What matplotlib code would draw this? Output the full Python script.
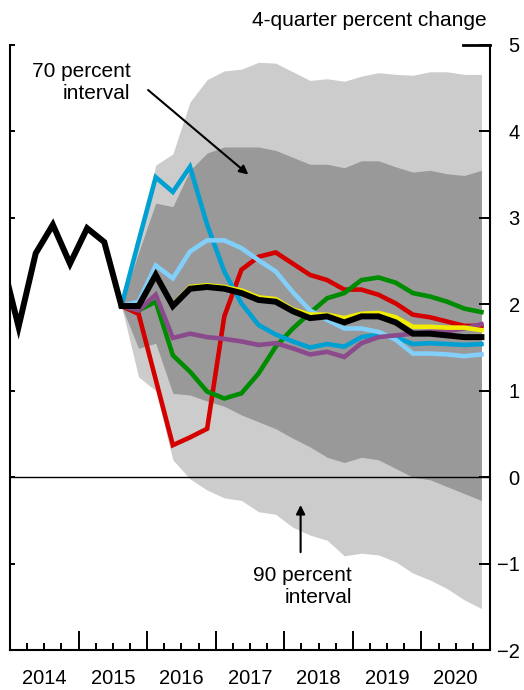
import numpy as np
import pandas as pd
import matplotlib
matplotlib.use("Agg")
import matplotlib.pyplot as plt
from matplotlib.ticker import FixedLocator, FuncFormatter, NullFormatter

plt.rcParams["font.family"] = ["Liberation Sans", "DejaVu Sans"]

# quarters: history starts 2013Q4, projections start 2015Q3
hist_q = pd.period_range("2013Q4", "2020Q4", freq="Q")
proj_q = pd.period_range("2015Q3", "2020Q4", freq="Q")

# black: history + baseline projection
baseline = [2.54,
            1.74, 2.59, 2.92, 2.47,
            2.88, 2.72, 1.98, 1.98,
            2.34, 1.98, 2.18, 2.20,
            2.18, 2.13, 2.05, 2.03,
            1.92, 1.84, 1.86, 1.79,
            1.86, 1.86, 1.79, 1.66,
            1.66, 1.64, 1.62, 1.62]

# alternative scenarios, 2015Q3 - 2020Q4
yellow = [1.98, 1.98, 2.35, 1.99, 2.20, 2.22, 2.20, 2.16, 2.08, 2.06, 1.94,
          1.88, 1.88, 1.84, 1.89, 1.90, 1.85, 1.74, 1.74, 1.73, 1.73, 1.70]
dark_blue = [1.98, 2.73, 3.47, 3.30, 3.59, 2.92, 2.38, 2.01, 1.76, 1.65, 1.57,
             1.50, 1.54, 1.51, 1.62, 1.65, 1.62, 1.54, 1.55, 1.54, 1.53, 1.54]
light_blue = [1.98, 2.03, 2.45, 2.30, 2.61, 2.74, 2.74, 2.65, 2.51, 2.38, 2.14,
              1.93, 1.82, 1.72, 1.72, 1.68, 1.59, 1.43, 1.43, 1.42, 1.40, 1.42]
red = [1.98, 1.89, 1.13, 0.37, 0.46, 0.56, 1.86, 2.40, 2.55, 2.60, 2.47,
       2.34, 2.28, 2.17, 2.17, 2.11, 2.01, 1.88, 1.85, 1.80, 1.75, 1.75]
green = [1.98, 1.93, 2.03, 1.41, 1.22, 0.99, 0.91, 0.97, 1.20, 1.51, 1.72,
         1.90, 2.07, 2.13, 2.28, 2.31, 2.25, 2.13, 2.09, 2.03, 1.95, 1.91]
purple = [1.98, 1.93, 2.11, 1.61, 1.66, 1.62, 1.60, 1.57, 1.53, 1.55, 1.49,
          1.42, 1.45, 1.39, 1.55, 1.62, 1.64, 1.66, 1.68, 1.69, 1.72, 1.77]

# confidence bands
p90_hi = [1.98, 2.75, 3.61, 3.74, 4.34, 4.60, 4.70, 4.72, 4.80, 4.79, 4.69,
          4.59, 4.61, 4.58, 4.64, 4.68, 4.66, 4.65, 4.69, 4.69, 4.66, 4.66]
p70_hi = [1.98, 2.60, 3.17, 3.13, 3.55, 3.75, 3.82, 3.82, 3.82, 3.78, 3.70,
          3.62, 3.62, 3.58, 3.66, 3.66, 3.59, 3.53, 3.55, 3.51, 3.49, 3.55]
p70_lo = [1.98, 1.49, 1.55, 0.97, 0.95, 0.88, 0.82, 0.72, 0.64, 0.56, 0.45,
          0.35, 0.23, 0.17, 0.23, 0.20, 0.10, 0.00, -0.03, -0.11, -0.19, -0.27]
p90_lo = [1.98, 1.16, 1.00, 0.20, -0.02, -0.15, -0.24, -0.27, -0.40, -0.43, -0.58,
          -0.67, -0.73, -0.91, -0.88, -0.90, -0.98, -1.11, -1.19, -1.29, -1.42, -1.52]

years = list(range(2014, 2021))


def qx(p):
    # quarter centre as a fractional year
    return np.asarray(p.year + (p.quarter - 0.5) / 4, dtype=float)


xh = qx(hist_q)
xp = qx(proj_q)

fig = plt.figure(figsize=(5.24, 6.9), dpi=100)
ax = fig.add_axes([10 / 524, 40 / 690, 480 / 524, 605 / 690])

ax.fill_between(xp, p90_lo, p90_hi, color="#cccccc", lw=0, zorder=1)
ax.fill_between(xp, p70_lo, p70_hi, color="#999999", lw=0, zorder=2)
ax.axhline(0, color="black", lw=1.0, zorder=3)

lw = 3.3
style = dict(lw=lw, solid_joinstyle="miter", zorder=4)
ax.plot(xp, red, color="#d40000", **style)
ax.plot(xp, green, color="#008c00", **style)
ax.plot(xp, dark_blue, color="#00a0d2", **style)
ax.plot(xp, light_blue, color="#82cffa", **style)
ax.plot(xp, purple, color="#8a4a8c", **style)
ax.plot(xp, yellow, color="#f2ec00", lw=lw, solid_joinstyle="miter", zorder=5)
ax.plot(xh, baseline, color="black", lw=4.3, solid_joinstyle="miter", zorder=6)

ax.set_xlim(2014, 2021)
ax.set_ylim(-2, 5)

for s in ["top", "right"]:
    ax.spines[s].set_visible(False)
for s in ["left", "bottom"]:
    ax.spines[s].set_linewidth(1.5)

# x axis: year ticks, quarter minor ticks, labels at mid-year
ax.xaxis.set_major_locator(FixedLocator(list(range(2014, 2022))))
ax.xaxis.set_major_formatter(NullFormatter())
ax.xaxis.set_minor_locator(FixedLocator([y + f for y in years for f in (0.25, 0.5, 0.75)]))
ax.xaxis.set_minor_formatter(FuncFormatter(
    lambda v, pos: str(int(v)) if abs(v % 1 - 0.5) < 1e-6 else ""))
ax.tick_params(axis="x", which="major", direction="in", length=14, width=1.4)
ax.tick_params(axis="x", which="minor", direction="in", length=5, width=1.4,
               pad=14, labelsize=14.5)

ax.set_yticks(range(-2, 6))
ax.tick_params(axis="y", direction="in", length=3.6, width=1.4, labelleft=False)

# right axis with labels
ax2 = ax.twinx()
ax2.set_ylim(-2, 5)
for s in ["top", "left", "bottom"]:
    ax2.spines[s].set_visible(False)
ax2.spines["right"].set_linewidth(1.5)
ticks = list(range(-2, 6))
ax2.set_yticks(ticks, [str(t).replace("-", "\u2212") for t in ticks], ha="right")
ax2.tick_params(axis="y", direction="in", length=8, width=1.4, pad=21.5, labelsize=14.5)
# longer cap at the top of the right axis
ax2.axhline(5, xmin=0.944, xmax=1, color="black", lw=2.0, clip_on=False)

fig.text(487 / 524, 1 - 20 / 690, "4-quarter percent change", ha="right", va="center",
         fontsize=15)

ax.text(2015.754, 4.57, "70 percent\ninterval", ha="right", va="center", fontsize=15)
ax.annotate("", xy=(2017.507, 3.48), xytext=(2015.983, 4.50),
            arrowprops=dict(arrowstyle="-|>", color="black", lw=1.5, mutation_scale=13))

ax.text(2018.983, -1.27, "90 percent\ninterval", ha="right", va="center", fontsize=15)
ax.annotate("", xy=(2018.238, -0.29), xytext=(2018.238, -0.90),
            arrowprops=dict(arrowstyle="-|>", color="black", lw=1.5, mutation_scale=13))

fig.savefig("out.png", dpi=100)
